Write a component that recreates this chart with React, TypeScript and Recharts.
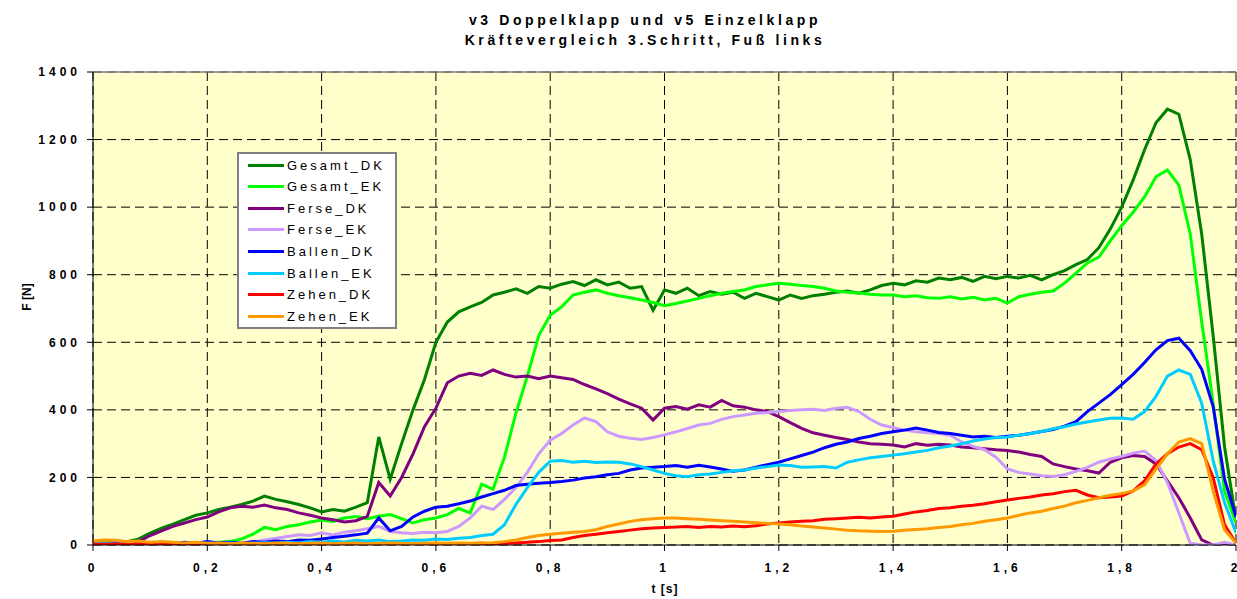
import React from 'react';
import { LineChart, Line, XAxis, YAxis, CartesianGrid, ReferenceLine } from 'recharts';

const TITLE_1 = 'v3 Doppelklapp und v5 Einzelklapp';
const TITLE_2 = 'Kräftevergleich 3.Schritt, Fuß links';
const X_LABEL = 't [s]';
const Y_LABEL = 'F [N]';

const X_TICKS = [0, 0.2, 0.4, 0.6, 0.8, 1, 1.2, 1.4, 1.6, 1.8, 2];
const X_TICK_LABELS = ['0', '0,2', '0,4', '0,6', '0,8', '1', '1,2', '1,4', '1,6', '1,8', '2'];
const Y_TICKS = [0, 200, 400, 600, 800, 1000, 1200, 1400];

const TIME = Array.from({ length: 101 }, (_, i) => Math.round(i * 2) / 100);

const GESAMT_DK = [
  5, 8, 6, 10, 18, 35, 50, 62, 75, 88,
  95, 105, 112, 120, 130, 145, 135, 128, 120, 110,
  98, 105, 100, 112, 125, 320, 195, 300, 400, 490,
  600, 660, 690, 705, 718, 740, 748, 758, 745, 765,
  760, 772, 780, 768, 785, 770, 778, 760, 765, 695,
  755, 745, 760, 738, 750, 742, 748, 730, 745, 735,
  725, 740, 730, 738, 742, 748, 752, 745, 755, 768,
  775, 770, 782, 778, 790, 785, 792, 780, 795, 788,
  795, 790, 798, 785, 800, 812, 830, 845, 880, 935,
  1000, 1080, 1170, 1250, 1290, 1275, 1140, 920, 620, 290,
  74,
];

const GESAMT_EK = [
  3, 5, 2, 6, 4, 5, 3, 6, 4, 5,
  6, 8, 10, 18, 32, 52, 45, 55, 60, 68,
  74, 70, 80, 84, 78, 85, 90, 78, 65, 75,
  80, 90, 108, 95, 180, 165, 260, 390, 500, 620,
  680, 705, 740, 748, 755, 745, 738, 732, 725, 718,
  708, 715, 722, 730, 738, 745, 750, 755, 765, 770,
  775, 772, 768, 765, 760, 752, 748, 746, 742, 740,
  740, 735, 738, 732, 730, 735, 728, 733, 725, 730,
  716, 735, 742, 748, 752, 775, 805, 835, 852, 900,
  945, 985, 1030, 1090, 1110, 1065, 920, 660, 420, 160,
  65,
];

const FERSE_DK = [
  2, 3, 2, 4, 10, 28, 42, 55, 65, 75,
  83, 98, 110, 115, 112, 118, 110, 105, 95, 88,
  80, 75, 68, 72, 85, 185, 145, 200, 270, 350,
  405, 480, 500, 508, 502, 518, 505, 497, 500, 492,
  500, 495, 490, 475, 462, 448, 432, 418, 405, 370,
  405, 410, 402, 415, 408, 428, 412, 408, 400, 395,
  380, 362, 345, 332, 325, 318, 312, 305, 300, 298,
  296, 290, 300, 295, 298, 296, 290, 288, 285, 282,
  280, 275, 268, 262, 240, 232, 225, 220, 213, 245,
  258, 265, 262, 240, 190, 140, 80, 15, 0, 0,
  0,
];

const FERSE_EK = [
  4, 2, 5, 3, 2, 4, 3, 5, 2, 3,
  4, 3, 5, 4, 8, 15, 20, 25, 30, 28,
  36, 30, 38, 42, 48, 55, 40, 36, 34, 38,
  36, 40, 55, 80, 115, 105, 135, 170, 215, 270,
  310, 330, 355, 376, 365, 335, 322, 316, 312, 318,
  326, 335, 345, 355, 360, 372, 380, 385, 390, 392,
  395, 398, 400, 402, 398, 405, 408, 395, 372, 355,
  348, 340, 335, 332, 330, 325, 305, 292, 282, 260,
  225, 215, 210, 205, 203, 208, 218, 230, 245, 255,
  262, 272, 278, 250, 185, 95, 5, 0, 0, 8,
  0,
];

const BALLEN_DK = [
  5, 3, 6, 4, 5, 3, 7, 4, 8, 5,
  10, 6, 8, 5, 10, 8, 12, 10, 15, 14,
  18, 22, 26, 30, 35, 80, 42, 55, 83, 100,
  112, 115, 122, 130, 142, 152, 162, 176, 180, 183,
  185, 188, 192, 198, 202, 208, 212, 222, 228, 230,
  232, 235, 230, 236, 231, 225, 218, 222, 230, 238,
  245, 255, 265, 275, 288, 298, 305, 315, 322, 330,
  335, 340, 346, 340, 333, 330, 325, 320, 322, 318,
  322, 325, 330, 336, 342, 352, 365, 395, 420, 445,
  475, 505, 540, 578, 605, 612, 575, 520, 410, 195,
  83,
];

const BALLEN_EK = [
  4, 6, 3, 5, 3, 5, 2, 6, 4, 3,
  5, 4, 6, 3, 5, 7, 5, 8, 6, 10,
  8, 12, 9, 14, 12, 15, 10, 12, 15, 14,
  18, 16, 20, 22, 28, 32, 60, 120, 170, 215,
  248, 250, 245, 248, 244, 246, 245, 240, 232, 222,
  212, 205, 202, 208, 210, 215, 220, 222, 228, 232,
  237, 235, 230, 231, 232, 228, 245, 252, 258, 262,
  266, 270, 275, 280, 288, 293, 300, 308, 314, 318,
  320, 325, 330, 336, 344, 350, 358, 364, 370, 375,
  376, 372, 395, 440, 500, 518, 505, 420, 250, 125,
  36,
];

const ZEHEN_DK = [
  3, 2, 3, 2, 3, 4, 2, 3, 2, 4,
  3, 2, 3, 4, 2, 3, 2, 3, 4, 3,
  2, 3, 4, 3, 2, 3, 4, 3, 2, 4,
  3, 4, 3, 4, 5, 4, 5, 6, 8, 10,
  13, 15, 22, 28, 32, 36, 40, 44, 48, 50,
  52, 53, 55, 52, 55, 53, 56, 54, 57, 62,
  65, 68, 70, 72, 76, 78, 80, 82, 80, 83,
  85, 92, 98, 102, 108, 110, 115, 118, 122, 128,
  133, 138, 142, 148, 152, 158, 162, 148, 140, 142,
  145, 160, 190, 240, 270, 290, 300, 282, 200, 60,
  6,
];

const ZEHEN_EK = [
  12, 15, 14, 10, 12, 8, 10, 8, 6, 8,
  5, 6, 4, 6, 5, 4, 6, 5, 4, 5,
  6, 4, 5, 6, 4, 5, 6, 5, 4, 5,
  6, 5, 6, 5, 6, 7, 10, 15, 22, 28,
  32, 35, 38, 40, 45, 55, 62, 70, 75, 78,
  80, 80, 78, 76, 74, 72, 70, 68, 66, 64,
  62, 60, 56, 53, 50, 47, 44, 42, 41, 40,
  41, 44, 46, 48, 52, 55, 60, 64, 70, 75,
  80, 88, 95, 100, 108, 115, 125, 132, 140, 147,
  152, 160, 178, 225, 270, 305, 315, 300, 160, 45,
  6,
];

const SERIES_NAMES = ['Gesamt_DK', 'Gesamt_EK', 'Ferse_DK', 'Ferse_EK', 'Ballen_DK', 'Ballen_EK', 'Zehen_DK', 'Zehen_EK'];
const SERIES_VALUES = [GESAMT_DK, GESAMT_EK, FERSE_DK, FERSE_EK, BALLEN_DK, BALLEN_EK, ZEHEN_DK, ZEHEN_EK];
const SERIES_COLORS = ['#008000', '#00FF00', '#800080', '#CC99FF', '#0000FF', '#00CCFF', '#FF0000', '#FF9900'];

const data = TIME.map((t, i) => {
  const row: Record<string, number> = { t };
  SERIES_NAMES.forEach((n, k) => {
    row[n] = SERIES_VALUES[k][i];
  });
  return row;
});

const FONT = '"Liberation Sans", Arial, sans-serif';

export default function App() {
  return (
    <div style={{ position: 'absolute', left: 0, top: 0, width: 1237, height: 599, background: '#fff', fontFamily: FONT }}>
      <div style={{ position: 'absolute', left: 0, width: 1290, top: 10, textAlign: 'center', fontWeight: 'bold', fontSize: 14, letterSpacing: 3.6, lineHeight: '20px', color: '#000' }}>
        <div>{TITLE_1}</div>
        <div>{TITLE_2}</div>
      </div>
      <LineChart width={1237} height={599} data={data} margin={{ top: 72, right: 1, bottom: 0, left: 0 }}>
        <CartesianGrid stroke="#000" strokeDasharray="9 5" fill="#FFFFCC" fillOpacity={1} />
        <ReferenceLine y={1400} stroke="#808080" strokeWidth={1.5} />
        <XAxis
          dataKey="t"
          type="number"
          domain={[0, 2]}
          ticks={X_TICKS}
          tickFormatter={(v: number) => X_TICK_LABELS[X_TICKS.indexOf(v)] ?? String(v)}
          stroke="#000"
          tickSize={6}
          tickMargin={12}
          height={54}
          tick={{ fill: '#000', fontSize: 12, fontWeight: 'bold', letterSpacing: 4, fontFamily: FONT }}
          interval={0}
          allowDataOverflow
        />
        <YAxis
          type="number"
          domain={[0, 1400]}
          ticks={Y_TICKS}
          width={93}
          stroke="#000"
          tickSize={6}
          tickMargin={6}
          tick={{ fill: '#000', fontSize: 12, fontWeight: 'bold', letterSpacing: 4, fontFamily: FONT }}
          interval={0}
          allowDataOverflow
        />
        {SERIES_NAMES.map((n, k) => (
          <Line
            key={n}
            dataKey={n}
            stroke={SERIES_COLORS[k]}
            strokeWidth={3}
            dot={false}
            type="linear"
            isAnimationActive={false}
          />
        ))}
      </LineChart>
      <div style={{ position: 'absolute', left: 8, top: 297, transform: 'translate(-50%, -50%) rotate(-90deg)', transformOrigin: 'center', marginLeft: 19, fontSize: 12, fontWeight: 'bold', whiteSpace: 'nowrap' }}>
        {Y_LABEL}
      </div>
      <div style={{ position: 'absolute', left: 665, top: 582, transform: 'translateX(-50%)', fontSize: 12, fontWeight: 'bold', letterSpacing: 1, whiteSpace: 'nowrap' }}>
        {X_LABEL}
      </div>
      <div style={{ position: 'absolute', left: 237, top: 152, width: 156, height: 173, background: '#fff', border: '2px solid #808080', boxSizing: 'content-box' }}>
        {SERIES_NAMES.map((n, k) => (
          <div key={n} style={{ position: 'absolute', left: 9, top: 1 + k * 21.6, height: 20, display: 'flex', alignItems: 'center' }}>
            <div style={{ width: 36, height: 3, background: SERIES_COLORS[k] }} />
            <div style={{ marginLeft: 3, fontSize: 13, letterSpacing: 3, color: '#000', whiteSpace: 'nowrap' }}>{n}</div>
          </div>
        ))}
      </div>
    </div>
  );
}
